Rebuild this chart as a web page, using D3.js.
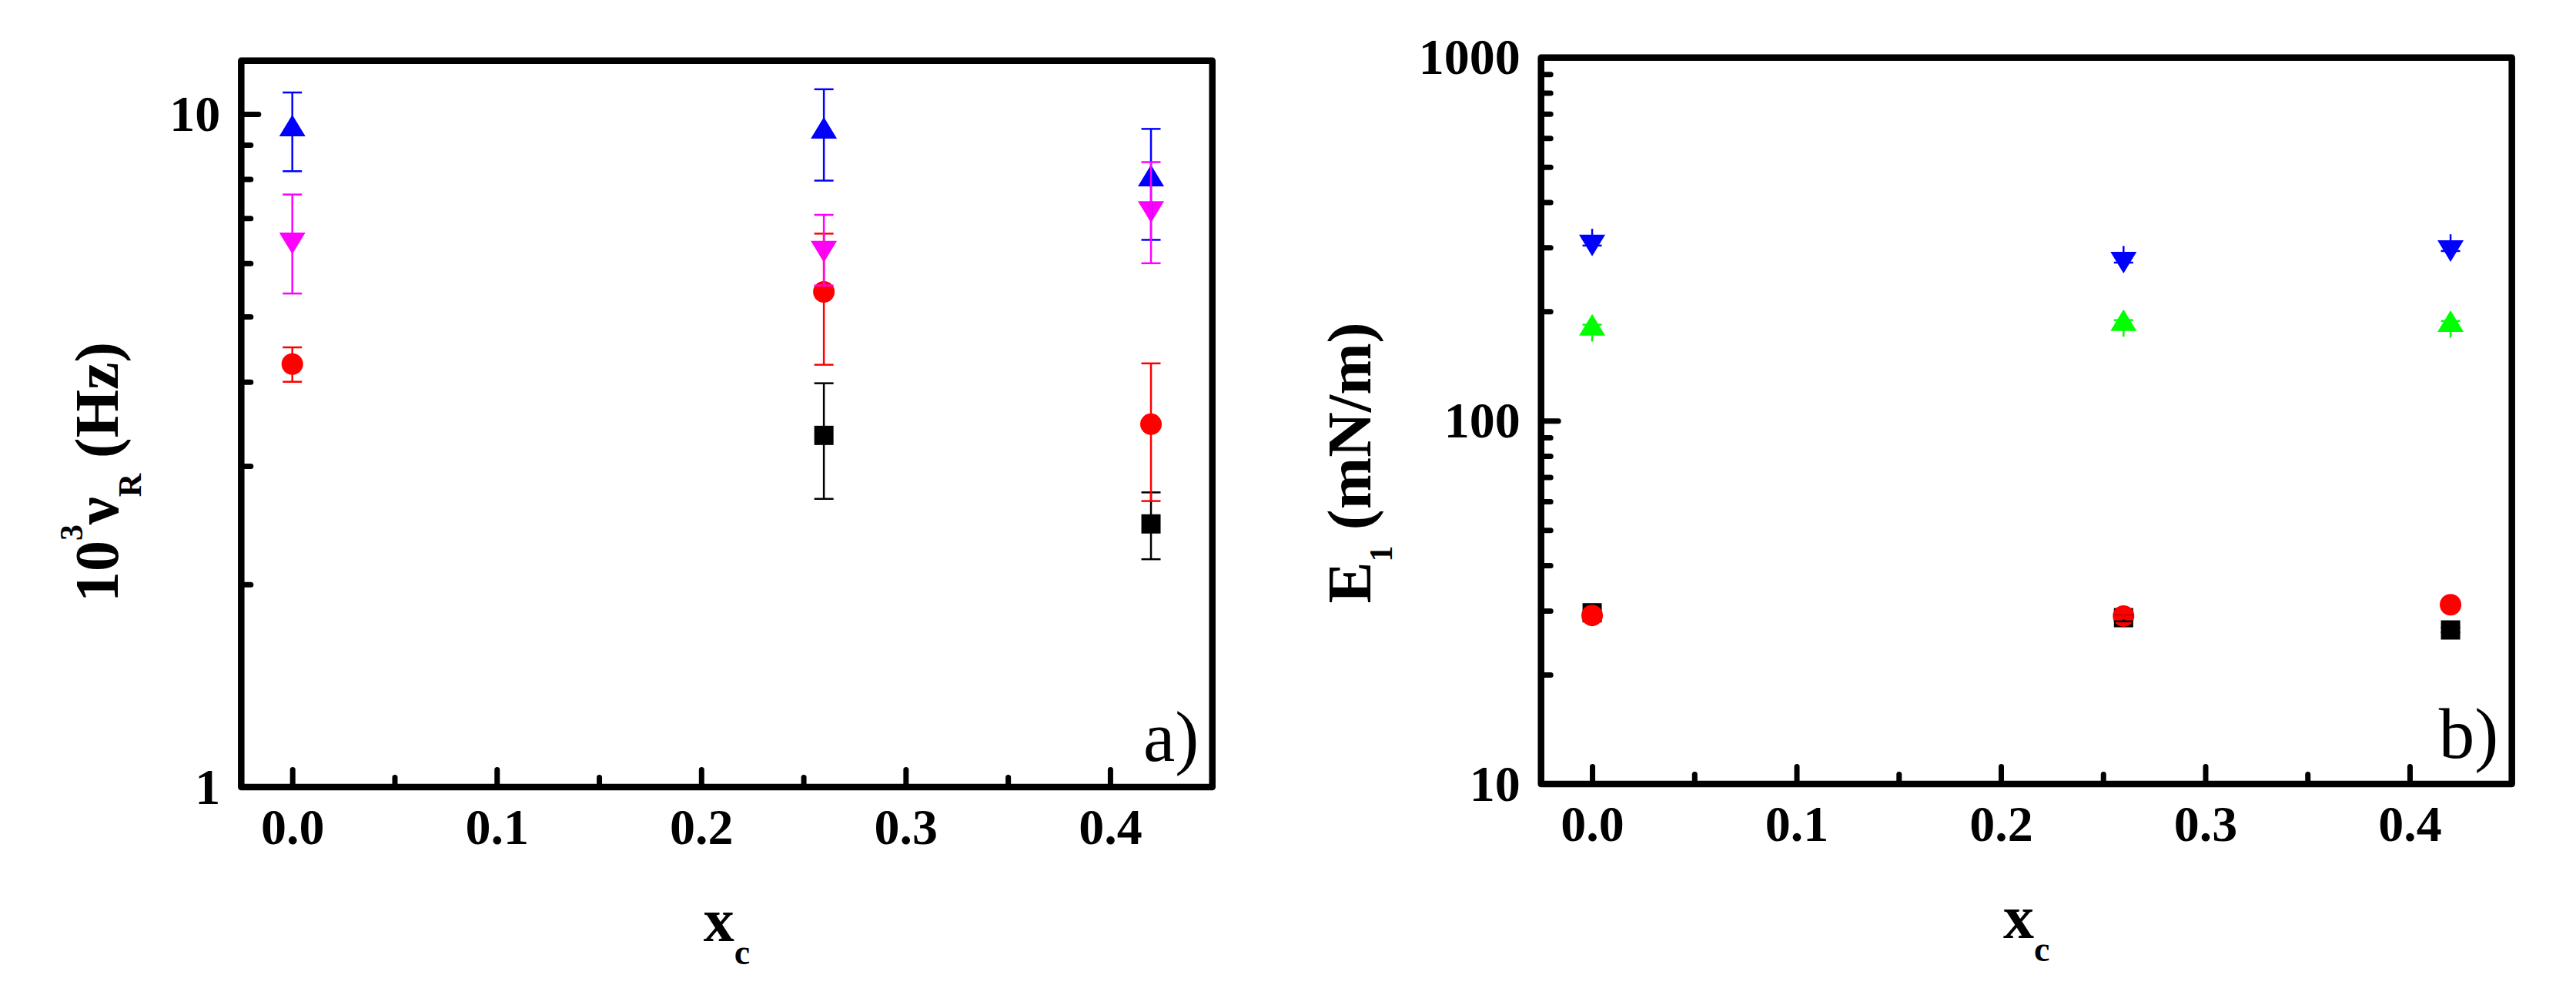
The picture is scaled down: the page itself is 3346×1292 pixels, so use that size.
<!DOCTYPE html>
<html lang="en">
<head>
<meta charset="UTF-8">
<title>Relaxation frequency and elasticity vs x_c</title>
<script src="https://d3js.org/d3.v7.min.js"></script>
<style>
  body { margin: 0; background: #fff; }
  svg { display: block; background: #fff; }
  text { font-family: "Liberation Serif", "Times New Roman", serif; fill: #000; }
  .tick text { font-size: 66px; font-weight: bold; }
  .title { font-size: 80px; font-weight: bold; }
  .tag { font-size: 93px; }
</style>
</head>
<body>
<svg id="chart" width="3346" height="1292"></svg>
<script>
// x axis (shared by both panels)
const xTicks = [0, 0.1, 0.2, 0.3, 0.4];
const xMinor = [0.05, 0.15, 0.25, 0.35];

// panel a) 10^3 nu_R (Hz)
const aX = [0, 0.26, 0.42];
const aSquare = [null, 3.33, 2.46];
const aSquareErr = [null, 0.65, 0.28];
const aCircle = [4.25, 5.44, 3.46];
const aCircleErr = [0.25, 1.2, 0.80];
const aUp = [9.49, 9.42, 8.0];
const aUpErr = [1.27, 1.46, 1.5];
const aDown = [6.50, 6.32, 7.24];
const aDownErr = [1.09, 0.76, 1.24];
const aYTicks = [1, 10];
const aYMinor = [2, 3, 4, 5, 6, 7, 8, 9];

// panel b) E1 (mN/m)
const bX = [0, 0.26, 0.42];
const bSquare = [29.6, 28.7, 26.55];
const bSquareErr = [0, 0.66, 0.4];
const bCircle = [29.1, 29.0, 31.15];
const bCircleErr = [0.4, 0.4, 0.4];
const bUp = [179.7, 185.0, 183.9];
const bUpErrMinus = [14.5, 14.7, 14.7];
const bDown = [310.6, 278.8, 300.1];
const bDownErrPlus = [27, 24, 26];
const bYTicks = [10, 100, 1000];
const bYMinor = [20, 30, 40, 50, 60, 70, 80, 90, 200, 300, 400, 500, 600, 700, 800, 900];

const svg = d3.select("#chart");
const SERIF = "'Liberation Serif', 'Times New Roman', serif";

const TRI_W = 34, TRI_H = 28, SQ = 25, CIRC = 28, CAP = 25;

const shapes = {
  square: `M${-SQ/2},${-SQ/2}h${SQ}v${SQ}h${-SQ}Z`,
  circle: `M${-CIRC/2},0a${CIRC/2},${CIRC/2} 0 1,0 ${CIRC},0a${CIRC/2},${CIRC/2} 0 1,0 ${-CIRC},0Z`,
  up: `M0,${-2*TRI_H/3}L${TRI_W/2},${TRI_H/3}L${-TRI_W/2},${TRI_H/3}Z`,
  down: `M0,${2*TRI_H/3}L${TRI_W/2},${-TRI_H/3}L${-TRI_W/2},${-TRI_H/3}Z`
};

// symmetric error bars, caps on both ends
function symmetric(xs, vs, es) {
  return xs.map((x, i) => ({x, v: vs[i], lo: vs[i] - (es[i] || 0), hi: vs[i] + (es[i] || 0), e: es[i]}))
    .filter(d => d.v != null);
}

const panels = [
  {
    left: 313.3, top: 78.7, width: 1261.4, height: 943.3,
    yDomain: [1, 12], yTicks: aYTicks, yMinor: aYMinor, tag: "a)",
    titleX: 153, titleY: 613,
    ytitle: [["10", 80, 0], ["3", 42, -46], ["\u03bd", 80, 46], ["R", 42, 30], ["\u00a0(Hz)", 80, -30]],
    series: [
      {pts: symmetric(aX, aSquare, aSquareErr), shape: "square", color: "#000000", caps: ["lo", "hi"]},
      {pts: symmetric(aX, aCircle, aCircleErr), shape: "circle", color: "#ff0000", caps: ["lo", "hi"]},
      {pts: symmetric(aX, aUp, aUpErr), shape: "up", color: "#0000ff", caps: ["lo", "hi"]},
      {pts: symmetric(aX, aDown, aDownErr), shape: "down", color: "#ff00ff", caps: ["lo", "hi"]}
    ]
  },
  {
    left: 2001.7, top: 74.7, width: 1261, height: 943.3,
    yDomain: [10, 1000], yTicks: bYTicks, yMinor: bYMinor, tag: "b)",
    titleX: 1780, titleY: 601,
    ytitle: [["E", 81, 0], ["1", 42, 28], ["\u00a0(mN/m)", 81, -28]],
    series: [
      {pts: symmetric(bX, bSquare, bSquareErr).filter(d => d.e > 0), shape: "square", color: "#000000", caps: ["lo", "hi"]},
      {pts: symmetric(bX, bCircle, bCircleErr), shape: "circle", color: "#ff0000", caps: ["lo", "hi"]},
      {pts: bX.map((x, i) => ({x, v: bUp[i], lo: bUp[i] - bUpErrMinus[i], hi: bUp[i]})),
        shape: "up", color: "#00ff00", caps: ["hi"], capShift: -TRI_H/6},
      {pts: bX.map((x, i) => ({x, v: bDown[i], lo: bDown[i], hi: bDown[i] + bDownErrPlus[i]})),
        shape: "down", color: "#0000ff", caps: ["lo"], capShift: TRI_H/6}
    ]
  }
];

// the square markers of b) at x = 0 are drawn even without an error bar
panels[1].series[0].markers = bX.map((x, i) => ({x, v: bSquare[i]}));

panels.forEach(p => {
  const g = svg.append("g").attr("transform", `translate(${p.left},${p.top})`);
  const x = d3.scaleLinear().domain([-0.025, 0.45]).range([0, p.width]);
  const y = d3.scaleLog().domain(p.yDomain).range([p.height, 0]);

  // minor ticks (inside)
  g.append("g").call(d3.axisLeft(y).tickValues(p.yMinor).tickSize(-12.5).tickFormat(""));
  g.append("g").attr("transform", `translate(0,${p.height})`)
    .call(d3.axisBottom(x).tickValues(xMinor).tickSize(-12.5).tickFormat(""));

  // major ticks + labels
  g.append("g")
    .call(d3.axisLeft(y).tickValues(p.yTicks).tickSize(-22.5).tickPadding(27).tickFormat(d3.format("d")));
  g.append("g").attr("transform", `translate(0,${p.height})`)
    .call(d3.axisBottom(x).tickValues(xTicks).tickSize(-22.5).tickPadding(27.5).tickFormat(d3.format(".1f")));

  g.selectAll(".domain").remove();
  g.selectAll(".tick line").attr("stroke", "#000").attr("stroke-width", 7).attr("stroke-linecap", "round");
  g.selectAll(".tick text").attr("font-family", SERIF).attr("font-weight", "bold").attr("font-size", 66);

  // markers first, error bars on top of them
  p.series.forEach(s => {
    g.append("g").selectAll("path")
      .data(s.markers || s.pts)
      .join("path")
      .attr("d", shapes[s.shape])
      .attr("fill", s.color)
      .attr("transform", d => `translate(${x(d.x)},${y(d.v)})`);
  });

  p.series.forEach(s => {
    const eg = g.append("g").attr("stroke", s.color).attr("stroke-width", 2.5).attr("fill", "none");
    eg.selectAll("line.bar")
      .data(s.pts)
      .join("line")
      .attr("class", "bar")
      .attr("x1", d => x(d.x)).attr("x2", d => x(d.x))
      .attr("y1", d => y(d.lo)).attr("y2", d => y(d.hi));
    s.caps.forEach(end => {
      eg.selectAll(`line.cap-${end}`)
        .data(s.pts)
        .join("line")
        .attr("class", `cap-${end}`)
        .attr("x1", d => x(d.x) - CAP / 2).attr("x2", d => x(d.x) + CAP / 2)
        .attr("y1", d => y(d[end]) + (s.capShift || 0))
        .attr("y2", d => y(d[end]) + (s.capShift || 0));
    });
  });

  // frame
  g.append("rect")
    .attr("width", p.width).attr("height", p.height)
    .attr("fill", "none").attr("stroke", "#000").attr("stroke-width", 8.5)
    .attr("stroke-linejoin", "round");

  // panel tag
  g.append("text").attr("class", "tag")
    .attr("x", p.width - 17.5).attr("y", p.height - 34)
    .attr("text-anchor", "end")
    .text(p.tag);

  // x title
  const xt = g.append("text").attr("class", "title")
    .attr("x", p.width / 2).attr("y", p.height + 200)
    .attr("text-anchor", "middle");
  xt.append("tspan").text("x");
  xt.append("tspan").attr("font-size", 46).attr("dy", 30).text("c");

  // y title
  const yt = svg.append("text").attr("class", "title")
    .attr("transform", `translate(${p.titleX},${p.titleY}) rotate(-90)`)
    .attr("text-anchor", "middle");
  p.ytitle.forEach(([t, size, dy]) => {
    yt.append("tspan").attr("font-size", size).attr("dy", dy).text(t);
  });
});
</script>
</body>
</html>
